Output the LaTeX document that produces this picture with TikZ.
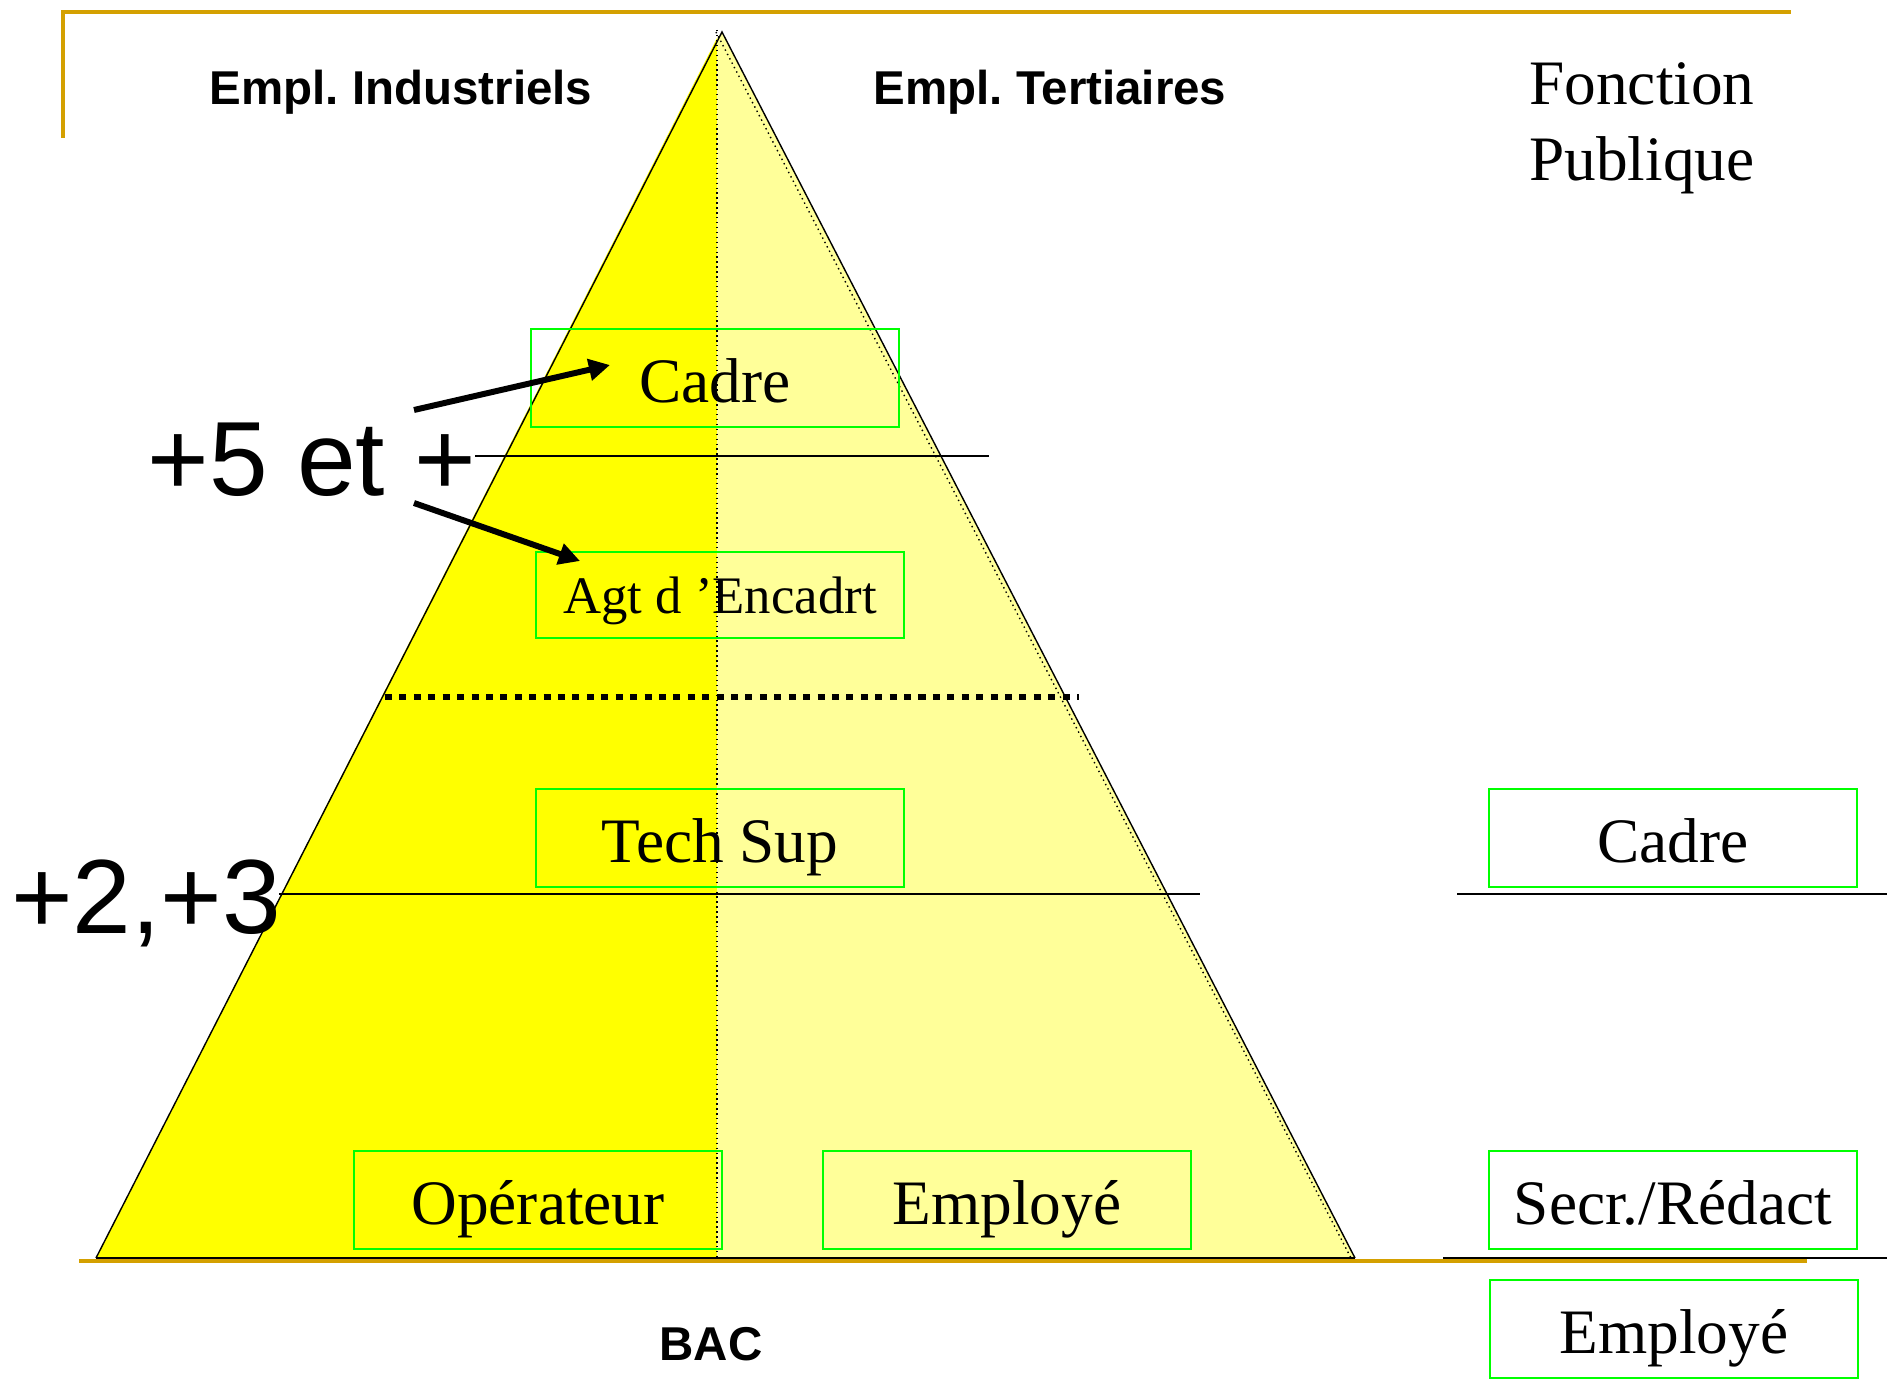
\documentclass[tikz,border=0pt]{standalone}
\usepackage{fontspec}
\setmainfont{Liberation Serif}
\setsansfont{Liberation Sans}
\usetikzlibrary{arrows.meta}
\definecolor{or}{RGB}{212,160,0}
\definecolor{jaune}{RGB}{255,255,0}
\definecolor{jaunepale}{RGB}{255,255,153}
\definecolor{vert}{RGB}{0,255,0}
\frenchspacing

\begin{document}
\begin{tikzpicture}[x=0.01cm,y=-0.01cm,
  boite/.style={draw=vert, line width=0.6pt, minimum width=3.68cm, minimum height=0.98cm, inner sep=0pt, text height=14pt, text depth=0pt, font=\fontsize{18}{20}\selectfont},
  titre/.style={font=\sffamily\bfseries\fontsize{13.5}{16}\selectfont},
  niveau/.style={font=\sffamily\fontsize{30}{34}\selectfont},
  trait/.style={line width=0.4pt},
  fleche/.style={line width=1.7pt, -{Triangle[length=6pt,width=6pt]}}]
\useasboundingbox (0,0) rectangle (1887,1382);

\fill[jaune] (96,1258) -- (717,38) -- (717,1258) -- cycle;
\fill[jaunepale] (717,38) -- (722,32) -- (1355,1258) -- (717,1258) -- cycle;
\draw[trait] (96,1258) -- (722,32) -- (1355,1258);
\draw[densely dotted, trait] (716,32) -- (1351,1258);
\draw[densely dotted, trait] (717,30) -- (717,1258);

\draw[or, line width=1.1pt] (63,138) -- (63,12) -- (1791,12);
\draw[or, line width=1.1pt] (79,1261) -- (1807,1261);
\draw[trait] (96,1258) -- (1355,1258);
\draw[trait] (1443,1258) -- (1887,1258);

\draw[trait] (475,456) -- (989,456);
\draw[trait] (279,894) -- (1200,894);
\draw[trait] (1457,894) -- (1887,894);
\draw[line width=1.7pt, dash pattern=on 2pt off 2.1pt] (385,697) -- (1079,697);

\node[titre] (industriels) at (401,92) {Empl. Industriels};
\node[titre] (tertiaires) at (1050,92) {Empl. Tertiaires};
\node[font=\fontsize{18}{21.6}\selectfont, align=center] (fonction) at (1642,128) {Fonction\\Publique};

\node[boite] (cadre) at (715,378) {Cadre};
\node[boite, minimum height=0.86cm, text height=10.6pt, font=\fontsize{15}{17}\selectfont] (agt) at (720,595) {Agt d ’Encadrt};
\node[boite] (techsup) at (720,838) {Tech Sup};
\node[boite] (operateur) at (538,1200) {Opérateur};
\node[boite] (employe) at (1007,1200) {Employé};
\node[boite] (cadreFP) at (1673,838) {Cadre};
\node[boite] (secr) at (1673,1200) {Secr./Rédact};
\node[boite] (employeFP) at (1674,1329) {Employé};

\node[niveau] (cinq) at (312,460) {+5 et +};
\node[niveau] (deux) at (146,903) {+2,+3};
\node[titre] (bac) at (711,1344) {BAC};

\coordinate (depart1) at (414,410);
\coordinate (depart2) at (414,503);
\coordinate (but1) at (610,365);
\coordinate (but2) at (580,561);
\draw[fleche] (depart1) -- (but1);
\draw[fleche] (depart2) -- (but2);
\end{tikzpicture}
\end{document}
